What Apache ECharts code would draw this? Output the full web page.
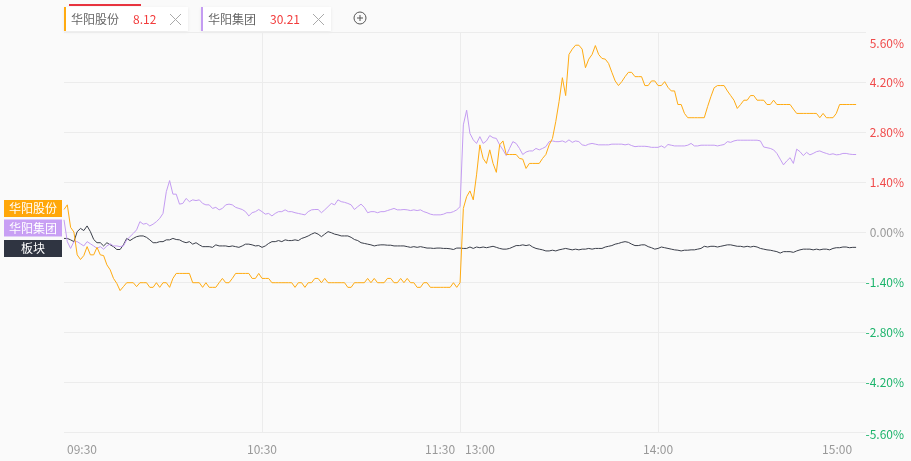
<!DOCTYPE html>
<html>
<head>
<meta charset="utf-8">
<script src="https://cdn.jsdelivr.net/npm/echarts@6/dist/echarts.min.js"></script>
<style>
html,body{margin:0;padding:0;background:#fafafa;}
#chart{width:911px;height:461px;}
</style>
</head>
<body>
<div id="chart"></div>
<script>
// ---- data ----
const stockNames = ['华阳股份', '华阳集团', '板块'];
const stockPrices = ['8.12', '30.21'];
const yTicks = [-5.6, 5.6, 1.4]; // min, max, step

// 华阳股份 (%)
const seriesA = [
  0.63, 0.76, 0.13, 0.00, -0.64, -0.77, -0.66, -0.41, -0.64, -0.64,
  -0.43, -0.64, -0.66, -0.92, -1.06, -1.30, -1.44, -1.64, -1.53, -1.42,
  -1.42, -1.42, -1.53, -1.42, -1.42, -1.42, -1.55, -1.55, -1.42, -1.55,
  -1.42, -1.42, -1.55, -1.30, -1.16, -1.16, -1.16, -1.16, -1.16, -1.42,
  -1.42, -1.42, -1.55, -1.42, -1.55, -1.55, -1.55, -1.42, -1.30, -1.42,
  -1.42, -1.30, -1.16, -1.16, -1.16, -1.16, -1.16, -1.30, -1.30, -1.16,
  -1.30, -1.30, -1.30, -1.42, -1.42, -1.42, -1.42, -1.42, -1.42, -1.42,
  -1.55, -1.42, -1.42, -1.55, -1.42, -1.42, -1.30, -1.30, -1.42, -1.30,
  -1.42, -1.42, -1.42, -1.42, -1.42, -1.42, -1.55, -1.55, -1.42, -1.42,
  -1.42, -1.42, -1.30, -1.42, -1.30, -1.42, -1.42, -1.42, -1.30, -1.30,
  -1.42, -1.42, -1.30, -1.42, -1.30, -1.42, -1.42, -1.55, -1.55, -1.42,
  -1.42, -1.55, -1.55, -1.55, -1.55, -1.55, -1.55, -1.55, -1.42, -1.55,
  -1.42,
  0.66, 0.99, 1.15, 0.90, 1.60, 2.44, 2.06, 1.92, 2.30, 1.92,
  1.67, 2.44, 2.55, 2.17, 2.17, 2.17, 2.17, 2.06, 2.04, 1.78,
  1.92, 1.92, 1.92, 1.92, 2.06, 2.17, 2.44, 2.62, 3.09, 3.65,
  4.32, 3.82, 4.97, 5.12, 5.23, 5.23, 5.12, 4.60, 4.84, 4.97,
  5.22, 4.97, 4.86, 4.84, 4.72, 4.47, 4.23, 4.10, 4.21, 4.35,
  4.47, 4.47, 4.35, 4.35, 4.35, 4.10, 4.10, 4.23, 4.23, 4.10,
  4.10, 4.21, 4.05, 3.95, 3.95, 3.57, 3.57, 3.32, 3.20, 3.20,
  3.20, 3.20, 3.20, 3.20, 3.51, 3.79, 4.04, 4.10, 4.10, 4.10,
  3.95, 3.82, 3.69, 3.46, 3.57, 3.69, 3.69, 3.82, 3.82, 3.69,
  3.69, 3.69, 3.57, 3.57, 3.69, 3.57, 3.57, 3.57, 3.57, 3.57,
  3.44, 3.32, 3.32, 3.32, 3.32, 3.32, 3.32, 3.32, 3.20, 3.32,
  3.20, 3.20, 3.20, 3.32, 3.57, 3.57, 3.57, 3.57, 3.57, 3.57
];

// 华阳集团 (%)
const seriesB = [
  0.34, -0.27, -0.46, -0.27, -0.27, -0.33, -0.39, -0.27, -0.33, -0.39,
  -0.46, -0.41, -0.48, -0.39, -0.33, -0.39, -0.39, -0.41, -0.39, -0.22,
  -0.13, -0.04, 0.06, 0.29, 0.22, 0.24, 0.17, 0.22, 0.29, 0.38,
  0.52, 1.13, 1.44, 1.06, 1.06, 0.78, 0.80, 0.94, 0.85, 0.90,
  0.88, 0.90, 0.80, 0.76, 0.76, 0.66, 0.69, 0.62, 0.66, 0.76,
  0.78, 0.76, 0.69, 0.66, 0.63, 0.57, 0.45, 0.54, 0.57, 0.63,
  0.57, 0.50, 0.52, 0.45, 0.52, 0.57, 0.57, 0.62, 0.57, 0.57,
  0.54, 0.52, 0.50, 0.48, 0.57, 0.62, 0.63, 0.63, 0.54, 0.62,
  0.71, 0.80, 0.76, 0.90, 0.85, 0.83, 0.80, 0.76, 0.63, 0.71,
  0.78, 0.69, 0.54, 0.57, 0.57, 0.54, 0.57, 0.57, 0.60, 0.63,
  0.66, 0.62, 0.62, 0.63, 0.62, 0.60, 0.62, 0.60, 0.62, 0.57,
  0.54, 0.50, 0.48, 0.48, 0.48, 0.50, 0.54, 0.54, 0.57, 0.62,
  0.71,
  3.00, 3.41, 2.76, 2.58, 2.48, 2.67, 2.48, 2.55, 2.70, 2.64,
  2.62, 2.44, 2.30, 2.14, 2.34, 2.53, 2.48, 2.34, 2.17, 2.24,
  2.27, 2.27, 2.34, 2.30, 2.34, 2.39, 2.53, 2.55, 2.53, 2.53,
  2.55, 2.51, 2.58, 2.51, 2.55, 2.53, 2.44, 2.42, 2.46, 2.48,
  2.46, 2.44, 2.44, 2.44, 2.44, 2.46, 2.46, 2.46, 2.46, 2.44,
  2.46, 2.42, 2.39, 2.40, 2.40, 2.40, 2.39, 2.37, 2.37, 2.37,
  2.41, 2.36, 2.45, 2.43, 2.41, 2.41, 2.41, 2.41, 2.43, 2.48,
  2.41, 2.41, 2.43, 2.43, 2.43, 2.43, 2.43, 2.41, 2.43, 2.45,
  2.53, 2.51, 2.55, 2.57, 2.57, 2.57, 2.57, 2.57, 2.57, 2.57,
  2.55, 2.38, 2.36, 2.34, 2.30, 2.20, 2.04, 1.88, 1.99, 2.08,
  1.92, 2.32, 2.25, 2.14, 2.23, 2.16, 2.20, 2.25, 2.27, 2.23,
  2.20, 2.17, 2.19, 2.16, 2.17, 2.20, 2.20, 2.18, 2.17, 2.17
];

// 板块 (%)
const seriesC = [
  -0.18, -0.18, -0.22, -0.27, 0.01, 0.10, 0.04, 0.17, 0.01, -0.21,
  -0.30, -0.30, -0.39, -0.30, -0.36, -0.41, -0.49, -0.49, -0.36, -0.18,
  -0.24, -0.18, -0.13, -0.11, -0.11, -0.15, -0.22, -0.30, -0.30, -0.27,
  -0.27, -0.22, -0.22, -0.18, -0.21, -0.22, -0.27, -0.30, -0.27, -0.34,
  -0.30, -0.36, -0.41, -0.41, -0.41, -0.43, -0.36, -0.39, -0.39, -0.39,
  -0.41, -0.39, -0.41, -0.43, -0.39, -0.34, -0.34, -0.36, -0.39, -0.38,
  -0.43, -0.39, -0.32, -0.27, -0.27, -0.24, -0.27, -0.22, -0.24, -0.24,
  -0.22, -0.24, -0.18, -0.15, -0.11, -0.06, -0.02, -0.06, -0.13, -0.06,
  0.01, -0.02, -0.06, -0.08, -0.11, -0.11, -0.11, -0.15, -0.21, -0.24,
  -0.30, -0.32, -0.34, -0.36, -0.39, -0.37, -0.36, -0.36, -0.37, -0.37,
  -0.39, -0.39, -0.39, -0.39, -0.41, -0.43, -0.41, -0.43, -0.41, -0.43,
  -0.45, -0.45, -0.46, -0.45, -0.45, -0.46, -0.46, -0.47, -0.49, -0.45,
  -0.45,
  -0.46, -0.46, -0.42, -0.46, -0.42, -0.44, -0.42, -0.44, -0.42, -0.40,
  -0.43, -0.46, -0.48, -0.48, -0.46, -0.42, -0.38, -0.38, -0.36, -0.38,
  -0.36, -0.42, -0.46, -0.48, -0.50, -0.53, -0.53, -0.51, -0.53, -0.50,
  -0.48, -0.46, -0.48, -0.50, -0.48, -0.50, -0.48, -0.48, -0.46, -0.48,
  -0.46, -0.46, -0.46, -0.42, -0.40, -0.38, -0.34, -0.32, -0.29, -0.27,
  -0.29, -0.34, -0.38, -0.38, -0.36, -0.36, -0.41, -0.44, -0.48, -0.46,
  -0.42, -0.44, -0.46, -0.48, -0.50, -0.51, -0.53, -0.51, -0.51, -0.50,
  -0.50, -0.48, -0.46, -0.40, -0.42, -0.40, -0.40, -0.42, -0.40, -0.38,
  -0.36, -0.36, -0.38, -0.40, -0.40, -0.42, -0.40, -0.42, -0.40, -0.42,
  -0.46, -0.48, -0.50, -0.51, -0.53, -0.55, -0.59, -0.55, -0.55, -0.55,
  -0.57, -0.53, -0.50, -0.48, -0.48, -0.48, -0.50, -0.48, -0.50, -0.48,
  -0.48, -0.50, -0.46, -0.44, -0.44, -0.42, -0.42, -0.44, -0.43, -0.43
];

// time categories: 09:30-11:30, 13:01-15:00 (+ a little empty room at the end)
function pad(n) { return (n < 10 ? '0' : '') + n; }
const times = [];
for (let m = 9 * 60 + 30; m <= 11 * 60 + 30; m++) times.push(pad(Math.floor(m / 60)) + ':' + pad(m % 60));
for (let m = 13 * 60 + 1; m <= 15 * 60; m++) times.push(pad(Math.floor(m / 60)) + ':' + pad(m % 60));
const categories = times.concat(['', '', '']);
const shownTimes = ['09:30', '10:30', '11:30', '14:00', '15:00'];
const splitTimes = ['10:30', '11:30', '14:00'];

// ---- chart ----
const FONT = '"Noto Sans CJK SC", "Microsoft YaHei", sans-serif';
const COLORS = ['#ffab12', '#c49cf2', '#3b3f4a'];
const chart = echarts.init(document.getElementById('chart'), null, { renderer: 'canvas' });

function tab(x, w, color, name, price, nameW) {
  return [
    { type: 'rect', shape: { x: x, y: 7, width: w, height: 24 }, style: { fill: '#ffffff', shadowBlur: 3, shadowColor: 'rgba(0,0,0,0.08)', shadowOffsetY: 1 } },
    { type: 'rect', shape: { x: x, y: 7, width: 2, height: 24 }, style: { fill: color } },
    { type: 'text', x: x + 7, y: 19.5, style: { text: name, fill: '#666', font: '12px ' + FONT, verticalAlign: 'middle' } },
    { type: 'text', x: x + nameW, y: 19.5, style: { text: price, fill: '#f23b3b', font: '12px ' + FONT, verticalAlign: 'middle' } },
    { type: 'line', shape: { x1: x + w - 18, y1: 14, x2: x + w - 7, y2: 25 }, style: { stroke: '#aaa', lineWidth: 1 } },
    { type: 'line', shape: { x1: x + w - 7, y1: 14, x2: x + w - 18, y2: 25 }, style: { stroke: '#aaa', lineWidth: 1 } }
  ];
}
function sideLabel(y, color, text) {
  return [
    { type: 'rect', shape: { x: 4, y: y, width: 58, height: 17 }, style: { fill: color } },
    { type: 'text', x: 33, y: y + 8.5, style: { text: text, fill: '#fff', font: '12px ' + FONT, align: 'center', verticalAlign: 'middle' } }
  ];
}

const graphics = [].concat(
  [{ type: 'rect', shape: { x: 69, y: 4, width: 72, height: 2 }, style: { fill: '#e8343f' } }],
  tab(64, 124, COLORS[0], stockNames[0], stockPrices[0], 69),
  tab(201, 130, COLORS[1], stockNames[1], stockPrices[1], 69),
  [
    { type: 'circle', shape: { cx: 360, cy: 18, r: 6 }, style: { fill: 'none', stroke: '#555', lineWidth: 1 } },
    { type: 'line', shape: { x1: 357, y1: 18, x2: 363, y2: 18 }, style: { stroke: '#555', lineWidth: 1 } },
    { type: 'line', shape: { x1: 360, y1: 15, x2: 360, y2: 21 }, style: { stroke: '#555', lineWidth: 1 } }
  ],
  sideLabel(200, '#ffa70a', stockNames[0]),
  sideLabel(219.5, '#c89ff4', stockNames[1]),
  sideLabel(240, '#2f3441', stockNames[2])
);

function lineSeries(name, data, color, z) {
  return {
    name: name, type: 'line', data: data, showSymbol: false, symbol: 'none',
    lineStyle: { width: 1, color: color }, itemStyle: { color: color },
    z: z, silent: true, animation: false
  };
}

chart.setOption({
  backgroundColor: '#fafafa',
  animation: false,
  textStyle: { fontFamily: FONT },
  grid: { left: 64, right: 45, top: 32, bottom: 29 },
  xAxis: {
    type: 'category',
    data: categories,
    boundaryGap: false,
    axisLine: { show: false },
    axisTick: { show: false },
    splitLine: {
      show: true,
      interval: function (i, v) { return splitTimes.indexOf(v) >= 0; },
      lineStyle: { color: '#ececec', width: 1 }
    },
    axisLabel: {
      interval: function (i, v) { return shownTimes.indexOf(v) >= 0; },
      color: '#999',
      fontSize: 12,
      fontFamily: FONT,
      margin: 11,
      alignMinLabel: 'left',
      alignMaxLabel: 'right',
      formatter: function (v) {
        if (v === '11:30') return '{a|11:30}{b|13:00}';
        if (v === shownTimes[0]) return '{l|' + v + '}';
        if (v === shownTimes[shownTimes.length - 1]) return '{e|' + v + '}';
        return v;
      },
      rich: {
        a: { color: '#999', fontSize: 12, fontFamily: FONT },
        b: { color: '#999', fontSize: 12, fontFamily: FONT, padding: [0, 0, 0, 10] },
        l: { color: '#999', fontSize: 12, fontFamily: FONT, padding: [0, 0, 0, 3] },
        e: { color: '#999', fontSize: 12, fontFamily: FONT, padding: [0, 4, 0, 0] }
      }
    }
  },
  yAxis: {
    type: 'value',
    position: 'right',
    min: yTicks[0],
    max: yTicks[1],
    interval: yTicks[2],
    axisLine: { show: false },
    axisTick: { show: false },
    splitLine: { show: true, lineStyle: { color: '#ececec', width: 1 } },
    axisLabel: {
      align: 'right',
      margin: 38,
      fontSize: 12,
      fontFamily: FONT,
      formatter: function (v) {
        const t = v.toFixed(2) + '%';
        const k = v > 0.001 ? 'r' : (v < -0.001 ? 'g' : 'z');
        if (Math.abs(v - yTicks[1]) < 1e-6) return '{rt|' + t + '}';
        if (Math.abs(v - yTicks[0]) < 1e-6) return '{gb|' + t + '}';
        return '{' + k + '|' + t + '}';
      },
      rich: {
        r: { color: '#f04b4b', fontSize: 12, fontFamily: FONT },
        g: { color: '#1db46c', fontSize: 12, fontFamily: FONT },
        z: { color: '#999', fontSize: 12, fontFamily: FONT },
        rt: { color: '#f04b4b', fontSize: 12, fontFamily: FONT, padding: [22, 0, 0, 0] },
        gb: { color: '#1db46c', fontSize: 12, fontFamily: FONT, padding: [4, 0, 0, 0] }
      }
    }
  },
  series: [
    lineSeries(stockNames[2], seriesC, COLORS[2], 2),
    lineSeries(stockNames[1], seriesB, COLORS[1], 3),
    lineSeries(stockNames[0], seriesA, COLORS[0], 4)
  ],
  graphic: graphics
});
</script>
</body>
</html>
